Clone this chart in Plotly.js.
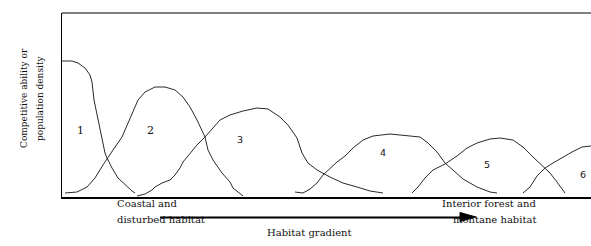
<!DOCTYPE html>
<html>
<head>
<meta charset="utf-8">
<script src="https://cdn.plot.ly/plotly-3.0.1.min.js"></script>
</head>
<body style="margin:0;background:#fff">
<div id="chart" style="width:591px;height:246px"></div>
<script>
// Habitat gradient position (arbitrary units) and competitive ability / density
var sp1X = [0, 10, 16, 23, 28, 30, 32, 34, 36, 40, 43, 45, 50, 56, 63, 70, 73];
var sp1Y = [136, 136, 134, 129, 122, 115, 97, 87, 77, 60, 44, 39, 29, 19, 12, 6, 4];

var sp2X = [3, 15, 25, 33, 41, 46, 51, 60, 65, 71, 76, 83, 93, 103, 113, 121, 128, 135, 143, 146, 151, 160, 168, 171, 178, 181];
var sp2Y = [4, 5, 10, 19, 32, 40, 47, 60, 72, 85, 97, 105, 110, 110, 107, 100, 90, 77, 60, 47, 37, 24, 15, 9, 4, 1];

var sp3X = [75, 83, 90, 93, 100, 108, 113, 118, 121, 128, 135, 143, 151, 158, 168, 181, 195, 206, 218, 226, 235, 240, 246, 255, 268, 281, 295, 308, 321];
var sp3Y = [1, 3, 7, 10, 14, 17, 22, 29, 35, 44, 52, 60, 69, 77, 82, 86, 89, 88, 80, 72, 59, 44, 34, 27, 20, 14, 10, 6, 4];

var sp4X = [233, 241, 248, 255, 261, 268, 275, 283, 291, 301, 311, 328, 341, 358, 366, 375, 383, 391, 401, 415, 428, 435];
var sp4Y = [5, 4, 8, 14, 22, 29, 35, 41, 49, 57, 61, 63, 62, 60, 54, 45, 34, 27, 18, 10, 5, 4];

var sp5X = [350, 356, 363, 371, 383, 395, 405, 415, 428, 438, 451, 461, 471, 480, 488, 495, 503];
var sp5Y = [4, 10, 19, 27, 33, 41, 49, 54, 58, 59, 57, 50, 40, 32, 24, 15, 4];

var sp6X = [461, 468, 475, 483, 491, 501, 510, 520, 529];
var sp6Y = [4, 10, 21, 29, 34, 40, 45, 50, 51];

var speciesLabels = ["1", "2", "3", "4", "5", "6"];
var labelX = [18, 88, 178, 321, 425, 521];
var labelY = [67, 67, 58, 45, 33, 23];

var yTitleLines = ["Competitive ability or", "population density"];
var leftEndLines = ["Coastal and", "disturbed habitat"];
var rightEndLines = ["Interior forest and", "montane habitat"];
var gradientTitle = "Habitat gradient";

var SERIF = "DejaVu Serif";
var SANS = "DejaVu Sans";

var allSeries = [[sp1X, sp1Y], [sp2X, sp2Y], [sp3X, sp3Y], [sp4X, sp4Y], [sp5X, sp5Y], [sp6X, sp6Y]];
var chartTraces = allSeries.map(function (s) {
  return {x: s[0], y: s[1], type: "scatter", mode: "lines",
          line: {color: "#2a2a2a", width: 1}, hoverinfo: "skip", showlegend: false};
});

var notes = [];
speciesLabels.forEach(function (t, i) {
  notes.push({x: labelX[i], y: labelY[i], xref: "x", yref: "y", text: t, showarrow: false,
    font: {family: i < 2 ? SERIF : SANS, size: i < 2 ? 11 : 9.5}});
});
var yTitleX = [-0.0851, -0.0548];
yTitleLines.forEach(function (t, i) {
  notes.push({x: yTitleX[i], y: 0.538, xref: "paper", yref: "paper", text: t, showarrow: false,
    textangle: -90, font: {family: SERIF, size: 9}});
});
var endY = [-0.0761, -0.163];
leftEndLines.forEach(function (t, i) {
  notes.push({x: 0.101, y: endY[i], xref: "paper", yref: "paper", text: t, showarrow: false,
    font: {family: SERIF, size: 10}});
});
rightEndLines.forEach(function (t, i) {
  notes.push({x: 0.8998, y: endY[i], xref: "paper", yref: "paper", text: t, showarrow: false,
    font: {family: SERIF, size: 10}});
});
notes.push({x: 0.4688, y: -0.2337, xref: "paper", yref: "paper", text: gradientTitle, showarrow: false,
  font: {family: SERIF, size: 10}});

var frameShapes = [
  {type: "line", xref: "paper", yref: "paper", x0: 0, x1: 1, y0: 1, y1: 1, line: {color: "#000", width: 1}},
  {type: "line", xref: "paper", yref: "paper", x0: 0.1853, x1: 0.7561, y0: -0.1114, y1: -0.1114, line: {color: "#000", width: 2}},
  {type: "path", xref: "paper", yref: "paper",
   path: "M 0.7524 -0.0842 L 0.7826 -0.1087 L 0.7524 -0.1332 Z",
   fillcolor: "#000", line: {color: "#000", width: 1}}
];

Plotly.newPlot("chart", chartTraces, {
  width: 591, height: 246,
  margin: {l: 62, r: 0, t: 13, b: 49},
  font: {family: SERIF, color: "#111"},
  showlegend: false,
  xaxis: {range: [0, 529], showline: true, linecolor: "#000", linewidth: 1.5, showgrid: false,
          zeroline: false, showticklabels: false, ticks: "", fixedrange: true},
  yaxis: {range: [0, 184], showline: true, linecolor: "#000", linewidth: 1, showgrid: false,
          zeroline: false, showticklabels: false, ticks: "", fixedrange: true},
  annotations: notes,
  shapes: frameShapes
}, {staticPlot: true});
</script>
</body>
</html>
